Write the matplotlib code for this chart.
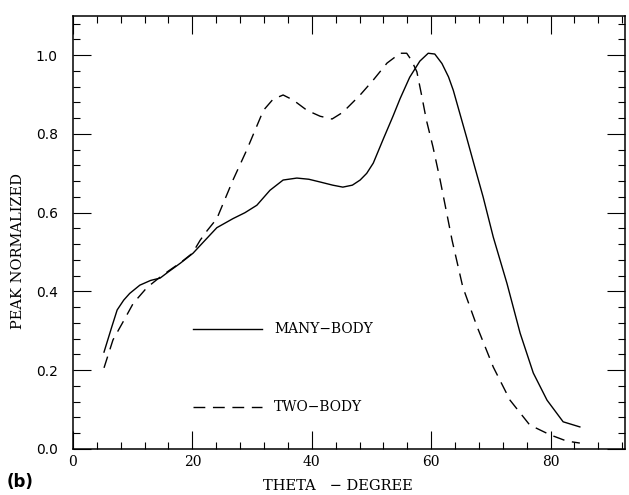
import numpy as np
import matplotlib.pyplot as plt
from matplotlib.ticker import MultipleLocator

# many-body curve
many_theta = [5.2, 6.5, 7.4, 8.5, 9.5, 11.2, 13.0, 14.6, 16.0, 18.0, 20.1, 22.0, 24.1,
              26.8, 28.8, 30.8, 33.0, 35.2, 37.5, 39.5, 41.4, 43.5, 45.2, 46.8, 48.1,
              49.2, 50.3, 52.0, 53.6, 54.8, 56.4, 58.1, 59.5, 60.6, 61.8, 62.9, 63.7,
              64.8, 65.9, 67.3, 68.7, 70.4, 72.7, 74.9, 77.1, 79.4, 82.1, 84.9]
many_peak = [0.246, 0.31, 0.353, 0.378, 0.395, 0.416, 0.428, 0.434, 0.45, 0.472, 0.497,
             0.528, 0.562, 0.585, 0.600, 0.619, 0.657, 0.683, 0.688, 0.685, 0.678, 0.670,
             0.665, 0.670, 0.683, 0.70, 0.726, 0.788, 0.845, 0.890, 0.944, 0.985, 1.005,
             1.003, 0.979, 0.945, 0.911, 0.852, 0.793, 0.716, 0.64, 0.538, 0.42, 0.294,
             0.193, 0.124, 0.069, 0.056]

# two-body curve
two_theta = [5.2, 6.7, 8.4, 10.1, 12.4, 14.3, 16.0, 18.0, 20.0, 21.3, 22.5, 24.1, 26.8,
             29.1, 31.9, 33.5, 35.2, 36.9, 39.2, 41.4, 43.4, 45.2, 48.1, 50.3, 52.6,
             54.8, 55.9, 56.7, 57.6, 58.4, 59.2, 60.3, 61.5, 62.6, 63.5, 65.3, 67.7,
             70.4, 73.2, 76.5, 79.9, 82.7, 84.9]
two_peak = [0.206, 0.277, 0.323, 0.37, 0.41, 0.433, 0.452, 0.473, 0.497, 0.53, 0.555,
            0.585, 0.683, 0.759, 0.86, 0.888, 0.899, 0.886, 0.860, 0.845, 0.838, 0.855,
            0.899, 0.937, 0.98, 1.005, 1.005, 0.987, 0.958, 0.898, 0.835, 0.767, 0.683,
            0.599, 0.53, 0.411, 0.31, 0.208, 0.124, 0.061, 0.036, 0.020, 0.015]

serif = 'DejaVu Serif'

fig = plt.figure(figsize=(6.29, 4.95), dpi=100)
ax = fig.add_axes([0.116, 0.093, 0.878, 0.875])

ax.plot(many_theta, many_peak, color='black', lw=1.0, label='MANY\u2212BODY')
ax.plot(two_theta, two_peak, color='black', lw=1.0, dashes=(8.5, 5.5), label='TWO\u2212BODY')

ax.set_xlim(0, 92.5)
ax.set_ylim(0, 1.1)
ax.xaxis.set_major_locator(MultipleLocator(20))
ax.xaxis.set_minor_locator(MultipleLocator(4))
ax.yaxis.set_major_locator(MultipleLocator(0.2))
ax.yaxis.set_minor_locator(MultipleLocator(0.04))
ax.yaxis.set_major_formatter(plt.FormatStrFormatter('%.1f'))

ax.tick_params(which='both', direction='in', top=True, right=True, width=0.8)
ax.tick_params(which='major', length=13)
ax.tick_params(which='minor', length=5)
ax.tick_params(axis='y', pad=11, labelsize=10)
ax.tick_params(axis='x', pad=4, labelsize=10)
for lab in ax.get_xticklabels():
    lab.set_fontfamily(serif)
for sp in ax.spines.values():
    sp.set_linewidth(1.1)

ax.set_xlabel('THETA   \u2212 DEGREE', fontfamily=serif, fontsize=10.5)
ax.xaxis.set_label_coords(0.48, -0.07)
ax.set_ylabel('PEAK NORMALIZED', fontfamily=serif, fontsize=10.5)
ax.yaxis.set_label_coords(-0.087, 0.457)

leg = ax.legend(loc='upper left', bbox_to_anchor=(0.217, 0.292), frameon=False,
                handlelength=5.0, handletextpad=0.85, labelspacing=4.6,
                borderpad=0, borderaxespad=0, prop={'family': serif, 'size': 10})

fig.text(0.011, 0.017, '(b)', fontsize=12, fontweight='bold')

fig.savefig('out.png', dpi=100)
